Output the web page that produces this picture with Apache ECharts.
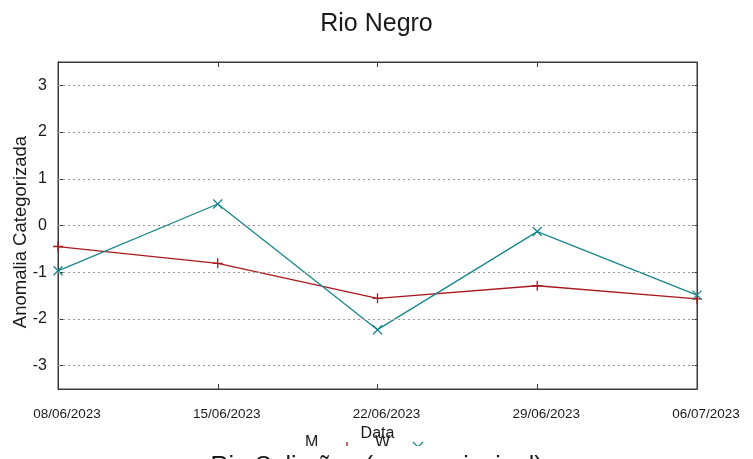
<!DOCTYPE html>
<html>
<head>
<meta charset="utf-8">
<script src="https://cdn.jsdelivr.net/npm/echarts@6/dist/echarts.min.js"></script>
<style>
html,body{margin:0;padding:0;background:#fff;}
#c{width:753px;height:459px;}
</style>
</head>
<body>
<div id="c"></div>
<script>
const categories = ['08/06/2023','15/06/2023','22/06/2023','29/06/2023','06/07/2023'];
const meanValues = [-0.45, -0.81, -1.56, -1.29, -1.57];
const wValues = [-0.97, 0.46, -2.23, -0.13, -1.49];
const yTicks = [-3, -2, -1, 0, 1, 2, 3];
const seriesNames = ['M', 'W'];
const titleText = 'Rio Negro';
const yAxisTitle = 'Anomalia Categorizada';
const nextTitleText = 'Rio Solimões (curso principal)';

const RED = '#a8191e';
const TEAL = '#17878a';
const FONT = '"Liberation Sans", Arial, sans-serif';
const plusPath = 'path://M5,0L5,10M0,5L10,5';
const crossPath = 'path://M0,0L10,10M10,0L0,10';

const chart = echarts.init(document.getElementById('c'), null, {renderer: 'canvas'});

const axisLineStyle = {color: '#3a3a3a', width: 1};

chart.setOption({
  backgroundColor: '#fff',
  animation: false,
  title: {
    text: titleText,
    left: 'center',
    top: 7,
    textStyle: {fontFamily: FONT, fontSize: 25, fontWeight: 'normal', color: '#1a1a1a'}
  },
  grid: {left: 58, right: 56, top: 62, bottom: 70, show: true, borderColor: '#3a3a3a', borderWidth: 1, containLabel: false, outerBoundsMode: 'none'},
  xAxis: [{
    type: 'category',
    data: categories,
    boundaryGap: false,
    position: 'bottom',
    name: 'Data',
    nameLocation: 'middle',
    nameGap: 32,
    nameTextStyle: {fontFamily: FONT, fontSize: 16, color: '#1a1a1a'},
    axisLine: {show: true, onZero: false, lineStyle: axisLineStyle},
    axisTick: {show: true, inside: true, length: 5, lineStyle: axisLineStyle},
    axisLabel: {fontFamily: FONT, fontSize: 13.5, color: '#1a1a1a', margin: 18, interval: 0, padding: [0, 0, 0, 18]},
    splitLine: {show: false}
  }, {
    type: 'category',
    data: categories,
    boundaryGap: false,
    position: 'top',
    axisLine: {show: true, onZero: false, lineStyle: axisLineStyle},
    axisTick: {show: true, inside: true, length: 5, lineStyle: axisLineStyle},
    axisLabel: {show: false},
    splitLine: {show: false}
  }],
  yAxis: [{
    type: 'value',
    min: -3.5,
    max: 3.5,
    position: 'left',
    axisLine: {show: true, onZero: false, lineStyle: axisLineStyle},
    axisTick: {show: true, inside: true, length: 5, customValues: yTicks, lineStyle: axisLineStyle},
    axisLabel: {fontFamily: FONT, fontSize: 16, color: '#1a1a1a', margin: 11, customValues: yTicks},
    splitLine: {show: false}
  }, {
    type: 'value',
    min: -3.5,
    max: 3.5,
    position: 'right',
    axisLine: {show: true, onZero: false, lineStyle: axisLineStyle},
    axisTick: {show: true, inside: true, length: 5, customValues: yTicks, lineStyle: axisLineStyle},
    axisLabel: {show: false, customValues: yTicks},
    splitLine: {show: false}
  }],
  series: [{
    type: 'line',
    name: 'grid',
    data: [],
    silent: true,
    z: 1,
    markLine: {
      silent: true,
      symbol: ['none', 'none'],
      label: {show: false},
      lineStyle: {color: '#9a9a9a', type: [2, 3], width: 1},
      data: yTicks.map(v => ({yAxis: v}))
    }
  }, {
    type: 'line',
    name: seriesNames[0],
    data: meanValues,
    z: 3,
    symbol: plusPath,
    symbolSize: 10,
    showAllSymbol: true,
    lineStyle: {color: RED, width: 1.3},
    itemStyle: {color: 'transparent', borderColor: RED, borderWidth: 1.3},
    clip: false
  }, {
    type: 'line',
    name: seriesNames[1],
    data: wValues,
    z: 4,
    symbol: crossPath,
    symbolSize: 9,
    showAllSymbol: true,
    lineStyle: {color: TEAL, width: 1.3},
    itemStyle: {color: 'transparent', borderColor: TEAL, borderWidth: 1.3},
    clip: false
  }],
  graphic: [
    {type: 'text', x: 21, y: 232, rotation: Math.PI / 2, z: 10,
      style: {text: yAxisTitle, font: '18.5px ' + FONT, fill: '#1a1a1a', align: 'center', verticalAlign: 'middle'}},
    {type: 'text', left: 305, top: 435, z: 10, style: {text: seriesNames[0], font: '16px ' + FONT, fill: '#1a1a1a'}},
    {type: 'text', left: 375, top: 435, z: 10, style: {text: seriesNames[1], font: '16px ' + FONT, fill: '#1a1a1a'}},
    {type: 'line', z: 10, shape: {x1: 347, y1: 442, x2: 347, y2: 454}, style: {stroke: RED, lineWidth: 1.3}},
    {type: 'line', z: 10, shape: {x1: 341, y1: 448, x2: 353, y2: 448}, style: {stroke: RED, lineWidth: 1.3}},
    {type: 'line', z: 10, shape: {x1: 413, y1: 442, x2: 423, y2: 452}, style: {stroke: TEAL, lineWidth: 1.3}},
    {type: 'line', z: 10, shape: {x1: 423, y1: 442, x2: 413, y2: 452}, style: {stroke: TEAL, lineWidth: 1.3}},
    {type: 'rect', z: 20, shape: {x: 0, y: 446, width: 753, height: 13}, style: {fill: '#fff'}},
    {type: 'text', left: 'center', top: 455, z: 30, style: {text: nextTitleText, font: '25px ' + FONT, fill: '#1a1a1a'}}
  ]
});
</script>
</body>
</html>
